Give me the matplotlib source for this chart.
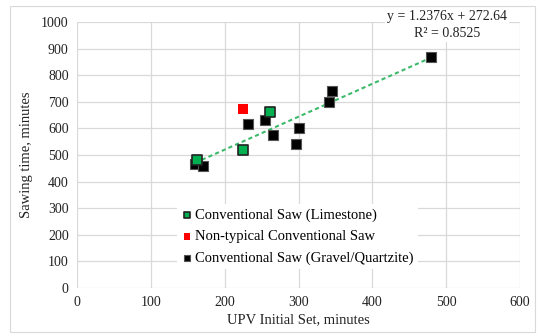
import numpy as np
import matplotlib.pyplot as plt
from matplotlib.patches import Rectangle

plt.rcParams['font.family'] = ['Liberation Serif', 'DejaVu Serif']

# limestone aggregate
lime_x = [162, 225, 261]
lime_y = [483, 520, 660]

# non-typical
odd_x = [225]
odd_y = [672]

# gravel / quartzite
grav_x = [160, 171, 231, 255, 266, 296, 300, 341, 345, 480]
grav_y = [465, 460, 617, 632, 574, 542, 601, 700, 742, 870]

slope = 1.2376
intercept = 272.64
r2 = 0.8525


def main():
	fig = plt.figure(figsize=(5.38, 3.34), dpi=100)
	ax = fig.add_axes([77/538, 1 - 288/334, 443/538, 266/334])

	# light frame round the whole chart
	fig.patches.append(Rectangle((10/538, 2/334), 525/538, 326/334, transform=fig.transFigure,
		fill=False, edgecolor='#d9d9d9', linewidth=0.8))

	ax.set_xlim(0, 600)
	ax.set_ylim(0, 1000)
	ax.set_xticks(range(0, 601, 100))
	ax.set_yticks(range(0, 1001, 100))
	ax.grid(True, color='#d9d9d9', linewidth=0.9)
	ax.set_axisbelow(True)
	for s in ax.spines.values():
		s.set_visible(False)
	ax.tick_params(length=0, labelsize=10, pad=6, colors='#222222')

	# trendline over the data range
	allx = lime_x + odd_x + grav_x
	tx = np.array([min(allx), max(allx)])
	ax.plot(tx, slope * tx + intercept, linestyle=(0, (2, 1.5)), color='#3cb96a', linewidth=1.5, zorder=2)

	ax.scatter(grav_x, grav_y, marker='s', s=50, color='black', edgecolor='#555555', linewidth=0.8,
		zorder=3, label='Conventional Saw (Gravel/Quartzite)')
	ax.scatter(lime_x, lime_y, marker='s', s=50, color='#00b050', edgecolor='#222222', linewidth=1.2,
		zorder=4, label='Conventional Saw (Limestone)')
	ax.scatter(odd_x, odd_y, marker='s', s=50, color='#ff0000', edgecolor='none',
		zorder=4, label='Non-typical Conventional Saw')

	h, l = ax.get_legend_handles_labels()
	order = [1, 2, 0]
	leg = ax.legend([h[i] for i in order], [l[i] for i in order], loc='upper left',
		bbox_to_anchor=(93/443, 1 - 175/266), frameon=True, fontsize=10.5,
		handlelength=0.7, handletextpad=0.2, markerscale=0.65, labelspacing=0.55, borderpad=0.3)
	leg.get_frame().set_edgecolor('none')
	leg.get_frame().set_facecolor('white')
	leg.get_frame().set_alpha(1)

	fig.text(447/538, 1 - 25/334, 'y = 1.2376x + 272.64\nR² = %.4f' % r2, ha='center', va='center',
		fontsize=10, linespacing=1.35, color='#222222',
		bbox=dict(facecolor='white', edgecolor='none', pad=1.5))

	ax.set_xlabel('UPV Initial Set, minutes', fontsize=10.5, labelpad=3, color='#222222')
	ax.set_ylabel('Sawing time, minutes', fontsize=10.5, labelpad=6, color='#222222')

	fig.savefig('out.png', dpi=100)


if __name__ == '__main__':
	main()
